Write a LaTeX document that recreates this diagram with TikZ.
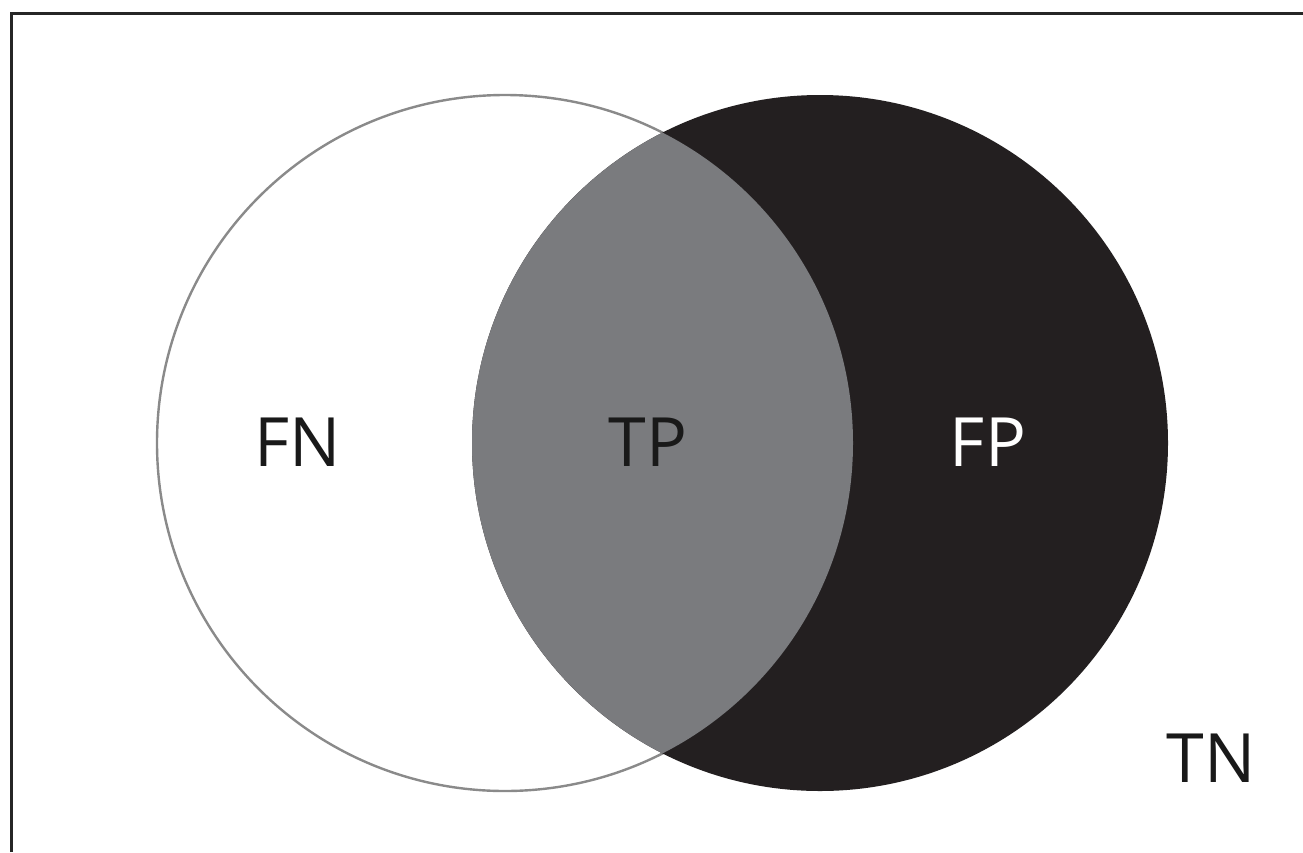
\documentclass[tikz,border=0pt]{standalone}
\usepackage{fontspec}
\setmainfont{Open Sans}
\definecolor{tpgray}{HTML}{7A7B7E}
\definecolor{fpblack}{HTML}{231F20}
\definecolor{outlinegray}{HTML}{8A8A8A}
\begin{document}
\begin{tikzpicture}[x=1pt,y=-1pt,
  lbl/.style={font=\fontsize{68}{68}\selectfont, inner sep=0pt, anchor=base},
  frame/.style={line width=3pt, draw=black!85}]
\useasboundingbox (0,0) rectangle (1303,852);
\fill[white] (0,0) rectangle (1303,852);
% frame
\coordinate (fbl) at (11,852);
\coordinate (ftl) at (11,13);
\coordinate (ftr) at (1303,13);
\draw[frame] (fbl) -- (ftl) -- (ftr);
% circles
\coordinate (cl) at (505,443);
\coordinate (cr) at (820,443);
\draw[outlinegray, line width=2.4pt] (cl) circle[radius=348];
\fill[fpblack] (cr) circle[radius=348];
\begin{scope}
  \clip (cl) circle[radius=348];
  \fill[tpgray] (cr) circle[radius=348];
\end{scope}
% labels
\node[lbl, text=black!90] (fn) at (298,466) {FN};
\node[lbl, text=black!90] (tp) at (648,466) {TP};
\node[lbl, text=white] (fp) at (988,466) {FP};
\node[lbl, text=black!90] (tn) at (1211,782) {TN};
\end{tikzpicture}
\end{document}
